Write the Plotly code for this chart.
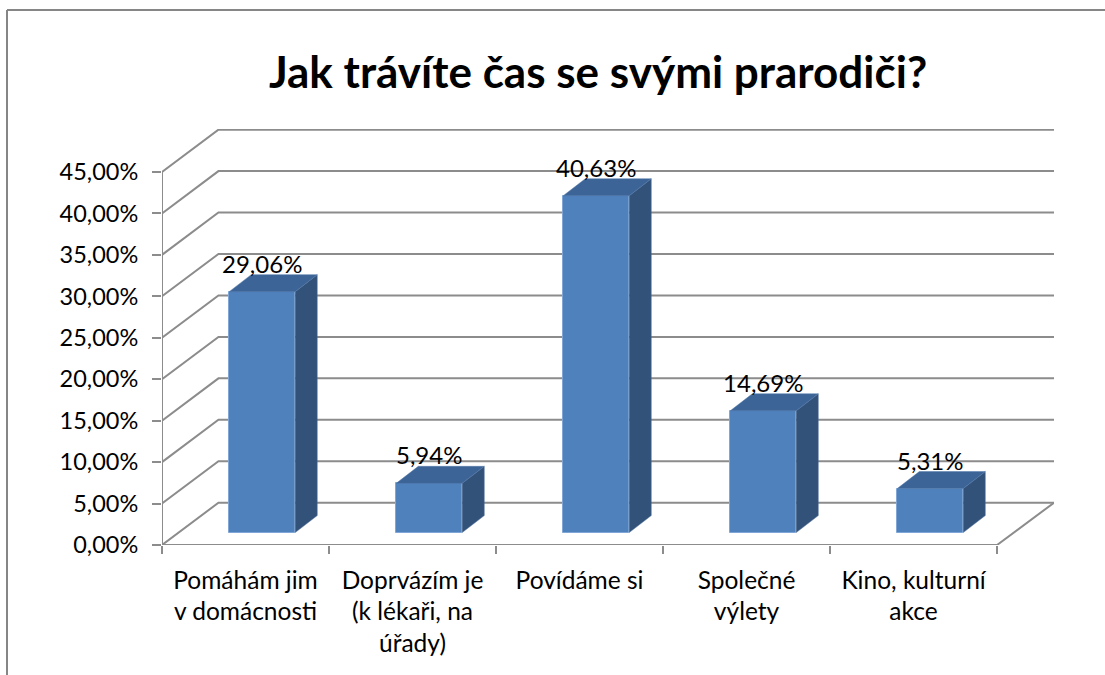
import plotly.graph_objects as go

# ---- data ----
categories = ["Pomáhám jim<br>v domácnosti", "Doprvázím je<br>(k lékaři, na<br>úřady)", "Povídáme si",
              "Společné<br>výlety", "Kino, kulturní<br>akce"]
values = [29.06, 5.94, 40.63, 14.69, 5.31]
value_labels = ["29,06%", "5,94%", "40,63%", "14,69%", "5,31%"]
y_ticks = [0, 5, 10, 15, 20, 25, 30, 35, 40, 45]
y_tick_labels = ["0,00%", "5,00%", "10,00%", "15,00%", "20,00%", "25,00%", "30,00%", "35,00%", "40,00%", "45,00%"]
title_text = "Jak trávíte čas se svými prarodiči?"

# ---- geometry of the fake 3D box (in axis units) ----
WALL_DX, WALL_DY = 0.338, 5.1
BAR_SHIFT, BAR_W, BAR_BASE = 0.1, 0.395, 1.5
SIDE_DX, SIDE_DY = 0.132, 2.05
X_MIN, X_MAX = -0.5, 4.841
Y_TOP = 50.18
FONT = "Lato, Carlito, Calibri, sans-serif"
GRID = "#8c8c8c"

fig = go.Figure()

# walls and floor, on the lower axes
wx, wy = [], []
n = len(categories)
for v in y_ticks:
    wx += [X_MIN, X_MIN + WALL_DX, X_MAX, None]
    wy += [v, v + WALL_DY, v + WALL_DY, None]
wx += [X_MAX, n - 0.5, X_MIN, None, X_MIN, X_MIN]
wy += [WALL_DY, 0, 0, None, 0, y_ticks[-1]]
fig.add_trace(go.Scatter(x=wx, y=wy, mode="lines", line=dict(color=GRID, width=2),
                         hoverinfo="skip", showlegend=False, cliponaxis=False))

# front faces
centers = [i + BAR_SHIFT for i in range(n)]
fig.add_trace(go.Bar(x=centers, y=values, base=BAR_BASE, width=BAR_W,
                     marker=dict(color="#4f81bd", line=dict(color="#7fa6d6", width=1)),
                     showlegend=False, xaxis="x2", yaxis="y2"))

# side and top faces
sx, sy, tx, ty = [], [], [], []
for c, v in zip(centers, values):
    r, l, b, t = c + BAR_W / 2, c - BAR_W / 2, BAR_BASE, BAR_BASE + v
    sx += [r, r + SIDE_DX, r + SIDE_DX, r, r, None]
    sy += [b, b + SIDE_DY, t + SIDE_DY, t, b, None]
    tx += [l, l + SIDE_DX, r + SIDE_DX, r, l, None]
    ty += [t, t + SIDE_DY, t + SIDE_DY, t, t, None]
fig.add_trace(go.Scatter(x=sx, y=sy, mode="lines", fill="toself", fillcolor="#32527a",
                         line=dict(color="#4a6c98", width=0.5), hoverinfo="skip",
                         showlegend=False, xaxis="x2", yaxis="y2"))
fig.add_trace(go.Scatter(x=tx, y=ty, mode="lines", fill="toself", fillcolor="#3c6496",
                         line=dict(color="#5079ab", width=0.5), hoverinfo="skip",
                         showlegend=False, xaxis="x2", yaxis="y2"))

# data labels
fig.add_trace(go.Scatter(x=centers, y=[BAR_BASE + v + 3.0 for v in values], text=value_labels,
                         mode="text", textposition="middle center",
                         textfont=dict(family=FONT, size=24, color="#000000"),
                         hoverinfo="skip", showlegend=False, xaxis="x2", yaxis="y2"))

fig.update_layout(
    width=1105, height=675, autosize=False,
    margin=dict(l=162, r=51, t=129, b=130, pad=0),
    paper_bgcolor="#ffffff", plot_bgcolor="#ffffff",
    font=dict(family=FONT, color="#000000", size=24),
    bargap=0,
    title=dict(text="<b>" + title_text + "</b>", x=598 / 1105, xref="container", xanchor="center",
               y=1 - 73 / 675, yref="container", yanchor="middle",
               font=dict(family=FONT, size=44, color="#000000")),
    xaxis=dict(range=[X_MIN, X_MAX], showgrid=False, zeroline=False, showline=False,
               tickmode="array", tickvals=list(range(n)), ticktext=categories, ticks="",
               ticklabelstandoff=18, tickangle=0, tickfont=dict(family=FONT, size=24.5),
               minor=dict(tickmode="array", tickvals=[i - 0.5 for i in range(n + 1)],
                          ticks="outside", ticklen=8, tickwidth=2, tickcolor=GRID, showgrid=False)),
    yaxis=dict(range=[0, Y_TOP], showgrid=False, zeroline=False, showline=False,
               tickmode="array", tickvals=y_ticks, ticktext=y_tick_labels,
               ticks="outside", ticklen=9, tickwidth=2, tickcolor=GRID,
               ticklabelstandoff=9, tickfont=dict(family=FONT, size=23.5)),
    xaxis2=dict(range=[X_MIN, X_MAX], overlaying="x", visible=False, anchor="y2"),
    yaxis2=dict(range=[0, Y_TOP], overlaying="y", visible=False, anchor="x2"),
    shapes=[
        dict(type="line", xref="paper", yref="paper", x0=-155 / 892, x1=943 / 892,
             y0=535 / 416, y1=535 / 416, line=dict(color="#868686", width=2)),
        dict(type="line", xref="paper", yref="paper", x0=-155 / 892, x1=-155 / 892,
             y0=-130 / 416, y1=535 / 416, line=dict(color="#868686", width=2)),
    ],
)
fig.write_html("out.html", config={"displayModeBar": False},
               post_script="document.body.style.margin='0';")
